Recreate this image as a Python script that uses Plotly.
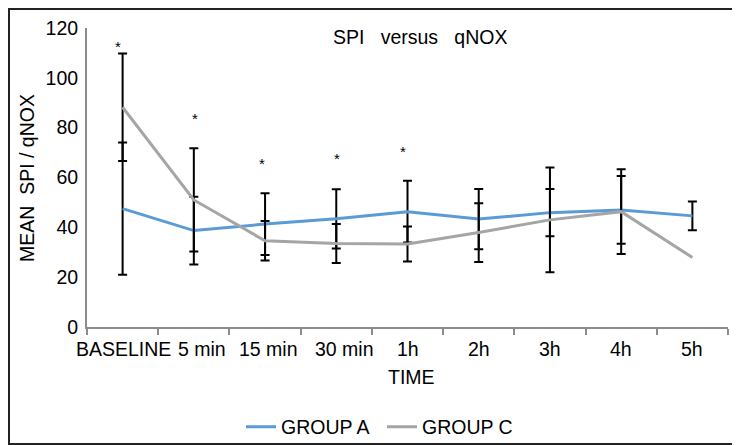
import plotly.graph_objects as go

categories = ["BASELINE", "5 min", "15 min", "30 min", "1h", "2h", "3h", "4h", "5h"]
group_a = [47.5, 38.7, 41.3, 43.4, 46.3, 43.3, 45.9, 47.0, 44.6]
group_a_err = [26.5, 13.6, 12.4, 11.9, 12.4, 12.1, 9.5, 13.6, 5.8]
group_c = [88.2, 51.0, 34.6, 33.5, 33.3, 37.9, 43.0, 46.3, 27.9]
# no error bar for GROUP C at 5h
group_c_err = [21.6, 20.7, 7.9, 7.8, 7.0, 11.8, 21.0, 17.0]
star_cats = ["BASELINE", "5 min", "15 min", "30 min", "1h"]
star_vals = [113.6, 84.9, 66.9, 69.0, 71.7]

# styling offsets (pixels)
star_xshift = [-4.8, 1.5, -3.5, 0.9, -4.1]
label_xshift = [0.7, 8.5, 3.8, 8.0, 0.5, 0, 0, 0, 0]

FONT = "Liberation Sans, Arial, sans-serif"
FS = 19.5
# the page body adds an 8px offset, so the figure is drawn 8px smaller
OFF = 8
W, H = 740 - OFF, 445 - OFF
PL, PR, PT, PB = 87, 728, 28, 327          # plot box in screenshot pixels
ML, MR, MT, MB = PL - OFF, 740 - PR, PT - OFF, 445 - PB
PW, PH = PR - PL, PB - PT


def px(x):
    return (x - PL) / PW


def py(y):
    return (PB - y) / PH


fig = go.Figure()
fig.add_trace(go.Scatter(
    x=categories, y=group_a, name="GROUP A", mode="lines",
    line=dict(color="#5B9BD5", width=3),
    error_y=dict(type="data", array=group_a_err, visible=True,
                 color="black", thickness=2, width=4.5),
))
fig.add_trace(go.Scatter(
    x=categories, y=group_c, name="GROUP C", mode="lines",
    line=dict(color="#A5A5A5", width=3),
    error_y=dict(type="data", array=group_c_err, visible=True,
                 color="black", thickness=2, width=4.5),
))

annotations = []
for c, v, s in zip(star_cats, star_vals, star_xshift):
    annotations.append(dict(x=c, y=v, xref="x", yref="y", text="*", showarrow=False,
                            xanchor="center", yanchor="middle",
                            xshift=s, yshift=-3, font=dict(family=FONT, size=15, color="black")))
for c, s in zip(categories, label_xshift):
    annotations.append(dict(x=c, y=py(349), xref="x", yref="paper", text=c, showarrow=False,
                            xanchor="center", yanchor="middle", xshift=s,
                            font=dict(family=FONT, size=FS, color="black")))
annotations.append(dict(x=px(420), y=py(37), xref="paper", yref="paper",
                        xanchor="center", yanchor="middle",
                        text="SPI\u00a0\u00a0\u00a0versus\u00a0\u00a0\u00a0qNOX", showarrow=False,
                        font=dict(family=FONT, size=FS, color="black")))
annotations.append(dict(x=px(27), y=py(178), xref="paper", yref="paper",
                        xanchor="center", yanchor="middle",
                        text="MEAN\u00a0\u00a0SPI / qNOX", textangle=-90, showarrow=False,
                        font=dict(family=FONT, size=FS, color="black")))
annotations.append(dict(x=px(411), y=py(377), xref="paper", yref="paper",
                        xanchor="center", yanchor="middle",
                        text="TIME", showarrow=False,
                        font=dict(family=FONT, size=FS, color="black")))

fig.update_layout(
    width=W, height=H,
    margin=dict(l=ML, r=MR, t=MT, b=MB, autoexpand=False),
    paper_bgcolor="white", plot_bgcolor="white",
    font=dict(family=FONT, size=FS, color="black"),
    showlegend=True,
    legend=dict(orientation="h", x=px(241), xanchor="left", y=py(427), yanchor="middle",
                entrywidth=96, entrywidthmode="pixels",
                font=dict(family=FONT, size=FS, color="black"), bgcolor="rgba(0,0,0,0)"),
    annotations=annotations,
    shapes=[dict(type="rect", xref="paper", yref="paper",
                 x0=px(OFF + 1), x1=px(736), y0=py(444), y1=py(OFF + 1),
                 line=dict(color="#222222", width=2), layer="below")],
)
fig.update_xaxes(
    type="category", range=[-0.5, len(categories) - 0.5], autorange=False,
    showgrid=False, showline=True, linecolor="#8C8C8C", linewidth=2,
    ticks="outside", tickson="boundaries", ticklen=6, tickcolor="#8C8C8C", tickwidth=2,
    showticklabels=False, automargin=False, zeroline=False,
)
fig.update_yaxes(
    range=[0, 120], dtick=20, showgrid=False, showline=True, linecolor="#8C8C8C", linewidth=2,
    ticks="", zeroline=False, ticklabelstandoff=3, automargin=False,
    tickfont=dict(family=FONT, size=FS, color="black"),
)

fig.write_html("out.html")
